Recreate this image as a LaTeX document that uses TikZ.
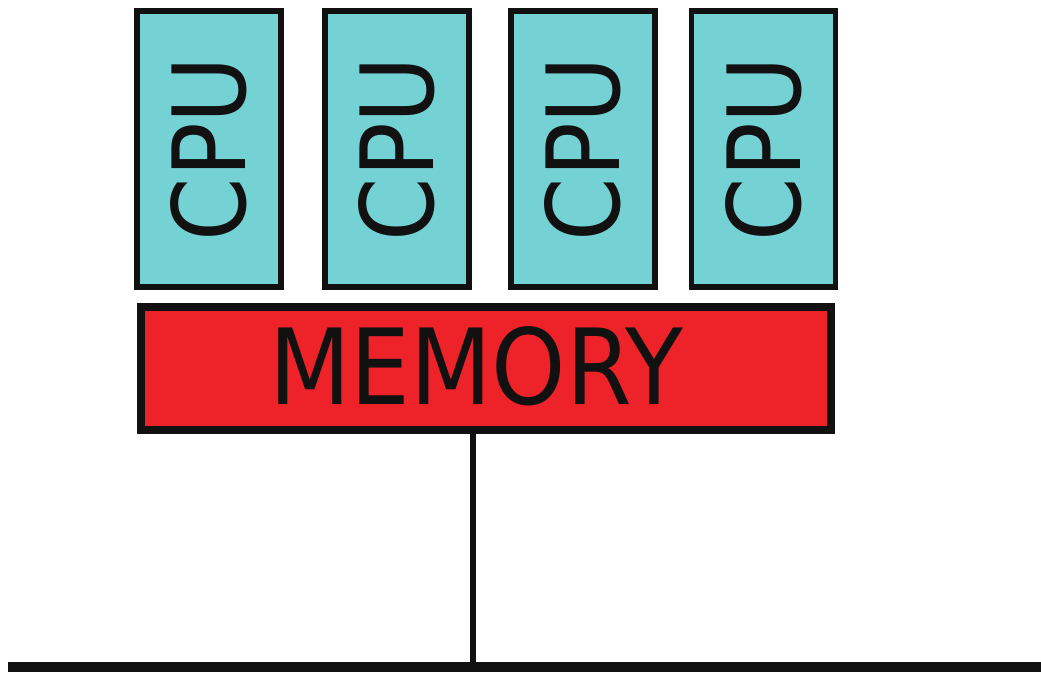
\documentclass[tikz,border=0pt]{standalone}
\usepackage{fontspec}
\newfontfamily\dvc{DejaVu Sans Condensed}
\definecolor{cpuc}{HTML}{74D1D4}
\definecolor{memc}{HTML}{EE2229}
\definecolor{ink}{HTML}{111111}
\begin{document}
\begin{tikzpicture}[x=1pt,y=1pt,
  cpubox/.style={draw=ink,fill=cpuc,line width=5.5pt,minimum width=144pt,minimum height=276pt,inner sep=0pt,outer sep=0pt,text=ink,font=\dvc\fontsize{101}{101}\selectfont},
  membox/.style={draw=ink,fill=memc,line width=7.5pt,minimum width=690pt,minimum height=123pt,inner sep=0pt,outer sep=0pt},
  memtext/.style={text=ink,inner sep=0pt,font=\dvc\fontsize{105}{105}\selectfont},
  wire/.style={draw=ink,line width=6.5pt},
  bus/.style={draw=ink,line width=10pt}]
\useasboundingbox (0,0) rectangle (1041,673);
\node[cpubox] (c1) at (209,524) {\rotatebox{90}{CPU}};
\node[cpubox] (c2) at (397,524) {\rotatebox{90}{CPU}};
\node[cpubox] (c3) at (583,524) {\rotatebox{90}{CPU}};
\node[cpubox] (c4) at (763.5,524) {\rotatebox{90}{CPU}};
\node[membox] (mem) at (486,304.5) {};
\node[memtext] (memlabel) at (476,306.5) {MEMORY};
\coordinate (bl) at (8,6);
\coordinate (br) at (1041,6);
\coordinate (tap) at (473,6);
\draw[bus] (bl) -- (br);
\draw[wire] (tap) -- (tap |- mem.south);
\end{tikzpicture}
\end{document}
